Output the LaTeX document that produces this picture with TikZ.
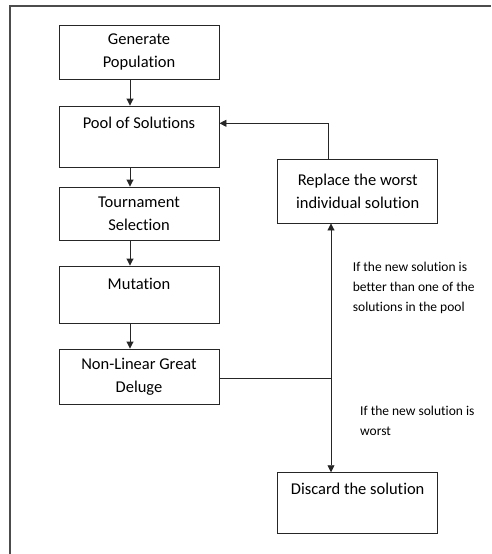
\documentclass[tikz,border=0pt]{standalone}
\usepackage{fontspec}
\setmainfont{Carlito}[Ligatures={NoCommon,NoContextual},RawFeature={-liga;-clig}]
\usetikzlibrary{arrows.meta,calc}
\begin{document}
\begin{tikzpicture}[x=1pt,y=-1pt,
  box/.style={draw=black!85, line width=0.9pt, rectangle, inner sep=0pt, align=center,
    font=\fontsize{16.5}{23}\selectfont},
  boxtxt/.style={inner sep=0pt, align=center, font=\fontsize{16.5}{23}\selectfont},
  note/.style={inner sep=0pt, align=left, anchor=north west, font=\fontsize{13.5}{20}\selectfont},
  conn/.style={draw=black!85, line width=0.9pt},
  arr/.style={conn, -{Triangle[length=7pt,width=7pt]}},
  frame/.style={draw=black!70, line width=1.3pt}
]
\useasboundingbox (0,0) rectangle (491,554);
\draw[frame] (10,554) -- (10,6) -- (491,6);

\node[box, minimum width=160pt, minimum height=54pt] (gen) at (139,52) {Generate\\Population};
\node[box, minimum width=160pt, minimum height=61pt] (pool) at (139,136.5) {};
\node[boxtxt] (poolt) at (139,123) {Pool of Solutions};
\node[box, minimum width=160pt, minimum height=53pt] (tour) at (139,213.5) {Tournament\\Selection};
\node[box, minimum width=160pt, minimum height=57pt] (mut) at (139,294.5) {};
\node[boxtxt] (mutt) at (139,284) {Mutation};
\node[box, minimum width=160pt, minimum height=55pt] (nlgd) at (139,376.5) {Non-Linear Great\\Deluge};
\node[box, minimum width=160pt, minimum height=64pt] (repl) at (357.7,191) {Replace the worst\\individual solution};
\node[box, minimum width=160pt, minimum height=60.6pt] (disc) at (357.7,503) {};
\node[boxtxt] (disct) at (357.7,489.3) {Discard the solution};

\node[note] (n1) at (352.7,262) {If the new solution is\\better than one of the\\solutions in the pool};
\node[note] (n2) at (360,405.5) {If the new solution is\\worst};

\coordinate (colx) at (130,0);
\coordinate (fb) at (328,123.3);
\coordinate (j) at (331,378.3);

\draw[arr] (gen.south -| colx) -- (pool.north -| colx);
\draw[arr] (pool.south -| colx) -- (tour.north -| colx);
\draw[arr] (tour.south -| colx) -- (mut.north -| colx);
\draw[arr] (mut.south -| colx) -- (nlgd.north -| colx);
\draw[arr] (repl.north -| fb) |- (pool.east |- fb);
\draw[conn] (nlgd.east |- j) -- (j);
\draw[arr] (j) -- (repl.south -| j);
\draw[arr] (j) -- (disc.north -| j);
\end{tikzpicture}
\end{document}
